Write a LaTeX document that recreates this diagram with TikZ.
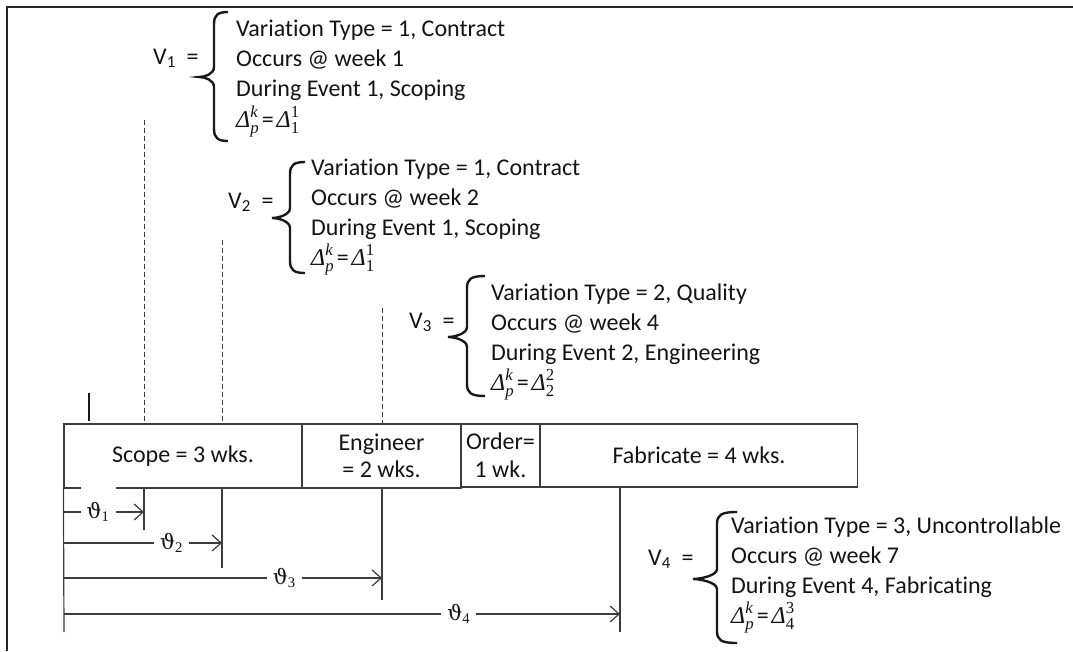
\documentclass[tikz,border=0pt]{standalone}
\usepackage{amsmath}
\usepackage{fontspec}
\setmainfont{Carlito}[Ligatures=NoCommon]
\newfontfamily\dfont{Liberation Serif}
\newfontfamily\tfont{DejaVu Serif}
\usetikzlibrary{arrows.meta}
\definecolor{ln}{HTML}{3C3C3C}
\definecolor{tx}{HTML}{141414}
\newcommand\wordbrace[6]{%
  \draw[brc] (#3,#4) .. controls (#1+4,#4) and (#1,#4+3) .. (#1,#4+12)
    -- (#1,#5-10) .. controls (#1,#5-3) and (#2+6,#5) .. (#2,#5)
    .. controls (#2+6,#5) and (#1,#5+3) .. (#1,#5+10)
    -- (#1,#6-12) .. controls (#1,#6-3) and (#1+4,#6) .. (#3,#6);}
\newcommand\di[1]{\text{\dfont\itshape #1}}
\newcommand\dn[1]{\text{\dfont #1}}
\newcommand\dline[2]{$\di{Δ}_{\di{p}}^{\di{k}}\mkern2mu\text{=}\mkern2mu\di{Δ}_{\dn{#1}}^{\dn{#2}}$}
\newcommand\thl[1]{{\fontsize{21}{26}\selectfont$\text{\tfont ϑ}_{\dn{#1}}$}}
\begin{document}
\begin{tikzpicture}[x=1pt,y=-1pt,
  every node/.style={font=\fontsize{24}{28}\selectfont, inner sep=0pt, text=tx},
  txt/.style={anchor=base west},
  brc/.style={line width=2.4pt, draw=black!90},
  bx/.style={draw=ln, line width=1.2pt, minimum height=64pt, align=center,
             font=\fontsize{24}{27.5}\selectfont},
  dsh/.style={draw=ln, line width=0.9pt, dash pattern=on 5pt off 3pt},
  vln/.style={draw=ln, line width=1.2pt},
  arr/.style={draw=ln, line width=1.2pt, -{Straight Barb[length=9pt,width=16pt]}},
  lbl/.style={fill=white, minimum width=35pt, minimum height=22pt},
  frm/.style={draw=black!85, line width=2pt}]
\useasboundingbox (0,0) rectangle (1073,651);
% frame
\coordinate (fbl) at (7,651);
\coordinate (ftl) at (7,7);
\coordinate (ftr) at (1073,7);
\draw[frm] (fbl) -- (ftl) -- (ftr);

% boxes
\node[bx, minimum width=238pt] (scope) at (183,456) {Scope = 3 wks.};
\node[bx, minimum width=159pt] (eng) at (381.5,456) {Engineer\\= 2 wks.};
\node[bx, minimum width=79pt, minimum height=63pt] (order) at (500.5,455.5) {Order=\\1 wk.};
\node[bx, minimum width=317pt, minimum height=63pt] (fab) at (699,455.5) {Fabricate = 4 wks.};

% start marker
\coordinate (mk1) at (89,393);
\coordinate (mk2) at (89,421);
\draw[line width=2.2pt, draw=black!90] (mk1) -- (mk2);

% dashed event lines
\coordinate (d1) at (144,120);
\coordinate (d2) at (222,240);
\coordinate (d3) at (382,308);
\draw[dsh] (d1) -- (d1 |- scope.north);
\draw[dsh] (d2) -- (d2 |- scope.north);
\draw[dsh] (d3) -- (d3 |- eng.north);

% solid lines below
\coordinate (o) at (64,632);
\coordinate (t1) at (144,530);
\coordinate (t2) at (222,568);
\coordinate (t3) at (382,600);
\coordinate (t4) at (620,632);
\draw[vln] (scope.south west) -- (o);
\draw[vln] (t1 |- scope.south) -- (t1);
\draw[vln] (t2 |- scope.south) -- (t2);
\draw[vln] (t3 |- eng.south) -- (t3);
\draw[vln] (t4 |- fab.south) -- (t4);

% theta arrows
\coordinate (a1s) at (64,512);  \coordinate (a1e) at (144,512);
\coordinate (a2s) at (64,543);  \coordinate (a2e) at (222,543);
\coordinate (a3s) at (64,578);  \coordinate (a3e) at (382,578);
\coordinate (a4s) at (64,614);  \coordinate (a4e) at (620,614);
\draw[arr] (a1s) -- node[lbl, minimum height=52pt, pos=0.425] (th1) {\thl{1}} (a1e);
\draw[arr] (a2s) -- node[lbl, pos=0.68] (th2) {\thl{2}} (a2e);
\draw[arr] (a3s) -- node[lbl, pos=0.693] (th3) {\thl{3}} (a3e);
\draw[arr] (a4s) -- node[lbl, pos=0.71] (th4) {\thl{4}} (a4e);

% V1
\node[txt] (v1) at (153,64) {V\textsubscript{1}\ \ =};
\wordbrace{214}{199}{228}{12}{77}{141}
\node[txt] (v1a) at (236,36.7) {Variation Type = 1, Contract};
\node[txt] (v1b) at (236,66.7) {Occurs @ week 1};
\node[txt] (v1c) at (236,96.7) {During Event 1, Scoping};
\node[txt] (v1d) at (236,127) {\dline{1}{1}};

% V2
\node[txt] (v2) at (228,208) {V\textsubscript{2}\ \ =};
\wordbrace{290}{272}{305}{162}{218}{273}
\node[txt] (v2a) at (311,175) {Variation Type = 1, Contract};
\node[txt] (v2b) at (311,205) {Occurs @ week 2};
\node[txt] (v2c) at (311,235) {During Event 1, Scoping};
\node[txt] (v2d) at (311,265) {\dline{1}{1}};

% V3
\node[txt] (v3) at (409,328) {V\textsubscript{3}\ \ =};
\wordbrace{467}{448}{485}{276}{337}{396}
\node[txt] (v3a) at (491,300) {Variation Type = 2, Quality};
\node[txt] (v3b) at (491,330) {Occurs @ week 4};
\node[txt] (v3c) at (491,360) {During Event 2, Engineering};
\node[txt] (v3d) at (491,390) {\dline{2}{2}};

% V4
\node[txt] (v4) at (648,565) {V\textsubscript{4}\ \ =};
\wordbrace{717}{693}{737}{512}{579}{643}
\node[txt] (v4a) at (731,533) {Variation Type = 3, Uncontrollable};
\node[txt] (v4b) at (731,563) {Occurs @ week 7};
\node[txt] (v4c) at (731,593) {During Event 4, Fabricating};
\node[txt] (v4d) at (731,623) {\dline{4}{3}};
\end{tikzpicture}
\end{document}
